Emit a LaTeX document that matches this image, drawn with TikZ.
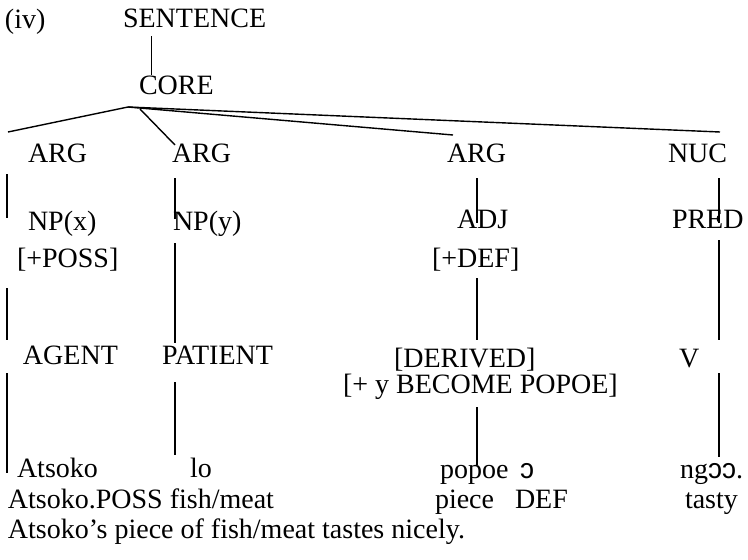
\documentclass[tikz,border=0pt]{standalone}
\usepackage{fontspec}
\setmainfont{Liberation Serif}
\newfontfamily\ipafont{Liberation Sans}
\begin{document}
\begin{tikzpicture}[x=1pt,y=-1pt,
  lbl/.style={anchor=base west,inner sep=0pt,outer sep=0pt,font=\fontsize{28}{30}\selectfont},
  branch/.style={line width=1.4pt,line cap=butt}]
\useasboundingbox (0,0) rectangle (748,560);
% labels
\node[lbl] (iv) at (5,28) {(iv)};
\node[lbl] (sent) at (123,27) {SENTENCE};
\node[lbl] (core) at (139,94) {CORE};
\node[lbl] (arg1) at (28,162) {ARG};
\node[lbl] (arg2) at (172,162) {ARG};
\node[lbl] (arg3) at (447,162) {ARG};
\node[lbl] (nuc) at (668,162) {NUC};
\node[lbl] (npx) at (28,230) {NP(x)};
\node[lbl] (npy) at (173,230) {NP(y)};
\node[lbl] (adj) at (457,228) {ADJ};
\node[lbl] (pred) at (672,228) {PRED};
\node[lbl] (poss) at (17,267) {[+POSS]};
\node[lbl] (def) at (432,267) {[+DEF]};
\node[lbl] (agent) at (23,364) {AGENT};
\node[lbl] (patient) at (162,364) {PATIENT};
\node[lbl] (derived) at (394,367) {[DERIVED]};
\node[lbl] (v) at (679,367) {V};
\node[lbl] (become) at (343,393) {[+ y BECOME POPOE]};
\node[lbl] (atsoko) at (17,477) {Atsoko};
\node[lbl] (lo) at (190,477) {lo};
\node[lbl] (popoe) at (440,478) {popoe};
\node[lbl] (oo) at (520,478) {\ipafont ɔ};
\node[lbl] (ngoo) at (680,478) {ng{\ipafont ɔɔ}.};
\node[lbl] (gloss1) at (8,508) {Atsoko.POSS fish/meat};
\node[lbl] (piece) at (435,508) {piece};
\node[lbl] (gdef) at (515,508) {DEF};
\node[lbl] (tasty) at (685,508) {tasty};
\node[lbl] (free) at (8,538) {Atsoko’s piece of fish/meat tastes nicely.};
% connector end points
\coordinate (s0) at (151.7,36); \coordinate (s1) at (151.7,75);
\coordinate (apex) at (128,107);
\coordinate (f1) at (8,132);
\coordinate (f2a) at (140,109); \coordinate (f2) at (175,145);
\coordinate (f3) at (453,135);
\coordinate (f4) at (720,132);
\coordinate (a1) at (7,174); \coordinate (b1) at (7,218);
\coordinate (c1) at (7,288); \coordinate (d1) at (7,340);
\coordinate (e1) at (7,373); \coordinate (g1) at (7,473);
\coordinate (a2) at (175,178); \coordinate (b2) at (175,219);
\coordinate (c2) at (175,243); \coordinate (d2) at (175,343);
\coordinate (e2) at (175,382); \coordinate (g2) at (175,455);
\coordinate (a3) at (477,178); \coordinate (b3) at (477,223);
\coordinate (c3) at (477,278); \coordinate (d3) at (477,340);
\coordinate (e3) at (477,407); \coordinate (g3) at (477,465);
\coordinate (a4) at (719,178); \coordinate (b4) at (719,223);
\coordinate (c4) at (719,240); \coordinate (d4) at (719,340);
\coordinate (e4) at (719,373); \coordinate (g4) at (719,457);
% connectors
\draw[branch] (s0) -- (s1);
\draw[branch] (apex) -- (f1);
\draw[branch] (f2a) -- (f2);
\draw[branch] (apex) -- (f3);
\draw[branch] (apex) -- (f4);
\foreach \i in {1,2,3,4}{
  \draw[branch] (a\i) -- (b\i);
  \draw[branch] (c\i) -- (d\i);
  \draw[branch] (e\i) -- (g\i);
}
\end{tikzpicture}
\end{document}
